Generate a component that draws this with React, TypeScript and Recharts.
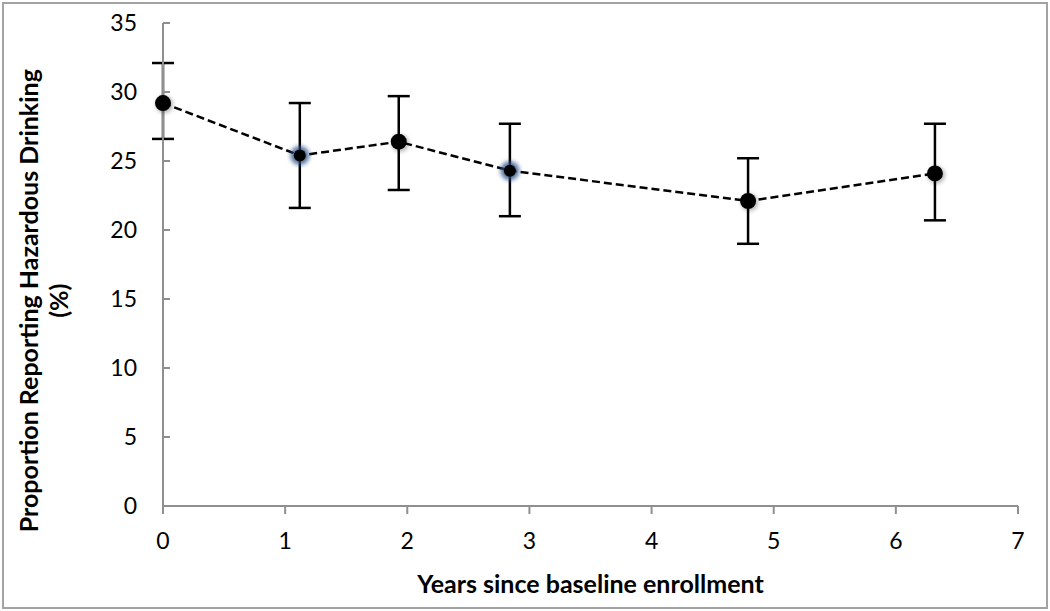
import React from "react"
import { LineChart, Line, XAxis, YAxis, ErrorBar } from "recharts"

const years = [0, 1.12, 1.93, 2.84, 4.79, 6.32]
const percent = [29.2, 25.4, 26.4, 24.3, 22.1, 24.1]
const lower = [26.6, 21.6, 22.9, 21.0, 19.0, 20.7]
const upper = [32.1, 29.2, 29.7, 27.7, 25.2, 27.7]
const glowing = [1, 3]

const xTicks = [0, 1, 2, 3, 4, 5, 6, 7]
const yTicks = [0, 5, 10, 15, 20, 25, 30, 35]

const data = years.map((year, i) => ({
  year,
  value: percent[i],
  err: [percent[i] - lower[i], upper[i] - percent[i]],
}))

const FONT = "Lato, 'Open Sans', sans-serif"
const AXIS = "#8f8f8f"

const Dot = (props: any) => {
  const { cx, cy, index } = props
  if (cx == null || cy == null) return null
  const glow = glowing.includes(index)
  return (
    <g key={`dot-${index}`}>
      {glow ? (
        <circle cx={cx} cy={cy} r={9.5} fill="#2c4f86" opacity={0.8} filter="url(#glow)" />
      ) : (
        <circle cx={cx + 1.5} cy={cy + 1.5} r={8.5} fill="#000" opacity={0.3} filter="url(#glow)" />
      )}
      <circle cx={cx} cy={cy} r={glow ? 6 : 8} fill="#000" />
    </g>
  )
}

const YLabel = (props: any) => {
  const { viewBox } = props
  const cy = viewBox.y + viewBox.height * 0.575
  return (
    <text
      transform={`translate(0, ${cy}) rotate(-90)`}
      textAnchor="middle"
      fontFamily={FONT}
      fontWeight={700}
      fontSize={25}
      fill="#000"
    >
      <tspan x={0} y={38}>Proportion Reporting Hazardous Drinking</tspan>
      <tspan x={0} y={68}>(%)</tspan>
    </text>
  )
}

export default function App() {
  return (
    <div style={{ position: "absolute", left: 0, top: 0, width: 1050, height: 611, background: "#fff" }}>
      <LineChart width={1050} height={611} data={data} margin={{ top: 23, right: 32, left: 0, bottom: 0 }}>
        <defs>
          <filter id="glow" x="-100%" y="-100%" width="300%" height="300%">
            <feGaussianBlur stdDeviation="2" />
          </filter>
        </defs>
        <XAxis
          dataKey="year"
          type="number"
          domain={[0, 7]}
          ticks={xTicks}
          height={105}
          stroke={AXIS}
          strokeWidth={2}
          tickSize={8}
          tickMargin={19}
          tick={{ fill: "#000", fontSize: 23, fontFamily: FONT }}
          label={{
            value: "Years since baseline enrollment",
            position: "insideBottom",
            offset: 18,
            fill: "#000",
            fontSize: 25,
            fontWeight: 700,
            fontFamily: FONT,
          }}
        />
        <YAxis
          type="number"
          domain={[0, 35]}
          ticks={yTicks}
          width={163}
          stroke={AXIS}
          strokeWidth={2}
          tickSize={-7}
          tickMargin={33}
          tick={{ fill: "#000", fontSize: 23, fontFamily: FONT }}
          label={<YLabel />}
        />
        <Line
          dataKey="value"
          stroke="#000"
          strokeWidth={2.5}
          strokeDasharray="8 4"
          dot={<Dot />}
          activeDot={false}
          isAnimationActive={false}
        >
          <ErrorBar dataKey="err" direction="y" width={11} stroke="#000" strokeWidth={2.5} />
        </Line>
      </LineChart>
      <div
        style={{
          position: "absolute",
          left: 2,
          top: 2,
          width: 1046,
          height: 607,
          boxSizing: "border-box",
          border: "2px solid #a3a3a3",
          pointerEvents: "none",
        }}
      />
    </div>
  )
}
